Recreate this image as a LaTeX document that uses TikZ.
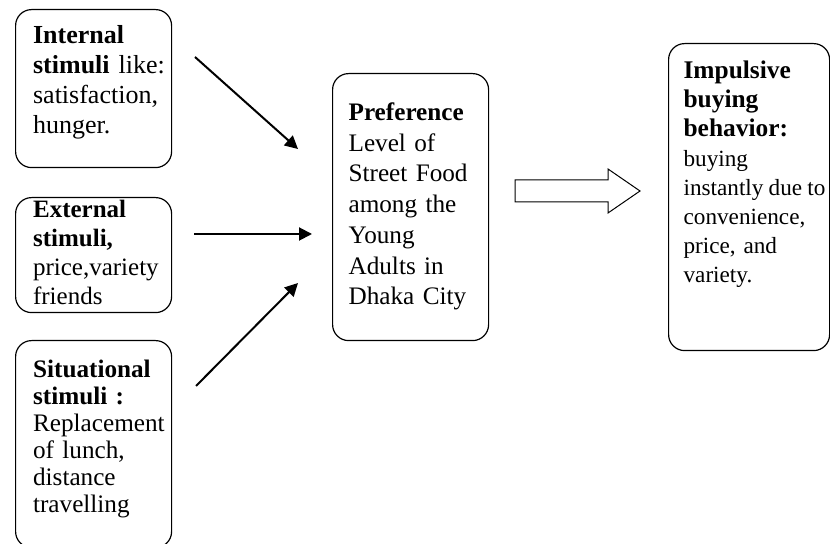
\documentclass[tikz,border=0pt]{standalone}
\usepackage{fontspec}
\setmainfont{Liberation Serif}
\usetikzlibrary{arrows.meta}

\begin{document}
\begin{tikzpicture}[x=0.5pt, y=-0.5pt,
  box/.style={draw, line width=0.6pt, rounded corners=8pt, anchor=north west, inner xsep=0pt, inner ysep=0pt,
    execute at begin node={\parindent=0pt\leftskip=#1\rightskip=0pt plus 1fill}},
  arr/.style={line width=1pt, -{Triangle[length=6.5pt,width=6.5pt]}}]
\useasboundingbox (0,0) rectangle (830,544);
\node[box=8.75pt, text width=78pt, text height=17pt, text depth=62pt, font=\fontsize{13}{15}\selectfont] (int) at (15,9){\textbf{Internal}\\\textbf{stimuli}\hspace{4.5pt}like:\\satisfaction,\\hunger.};
\node[box=8.75pt, text width=78pt, text height=10pt, text depth=47.5pt, font=\fontsize{12.5}{14.5}\selectfont] (ext) at (15,197){\textbf{External}\\\textbf{stimuli,}\\price,variety\\friends};
\node[box=8.75pt, text width=78pt, text height=18.5pt, text depth=85pt, font=\fontsize{12.6}{13.5}\selectfont] (sit) at (15,340){\textbf{Situational}\\\textbf{stimuli :}\\Replacement\\of lunch,\\distance\\travelling};
\node[box=8pt, text width=78pt, text height=23.5pt, text depth=110pt, font=\fontsize{12.6}{15.35}\selectfont] (pref) at (332,73){\textbf{Preference}\\Level of\\Street Food\\among the\\Young\\Adults in\\Dhaka City};
\node[box=7.5pt, text width=80.5pt, text height=17.5pt, text depth=136pt, font=\fontsize{11.6}{14.6}\selectfont] (imp) at (668,43){{\fontsize{12.7}{14.6}\selectfont\bfseries Impulsive\\buying\\behavior:}\\buying\\\mbox{instantly\hspace{2.6pt}due\hspace{2.6pt}to}\\convenience,\\price, and\\variety.};
\coordinate (a1) at (195,57);
\coordinate (b1) at (298,149);
\draw[arr](a1) -- (b1);
\coordinate (a2) at (194,234);
\coordinate (b2) at (312,234);
\draw[arr](a2) -- (b2);
\coordinate (a3) at (196,386);
\coordinate (b3) at (298,283);
\draw[arr](a3) -- (b3);
\draw[line width=0.5pt] (515,180) -- (608,180) -- (608,169) -- (640,191) -- (608,213) -- (608,202) -- (515,202) -- cycle;
\end{tikzpicture}
\end{document}
